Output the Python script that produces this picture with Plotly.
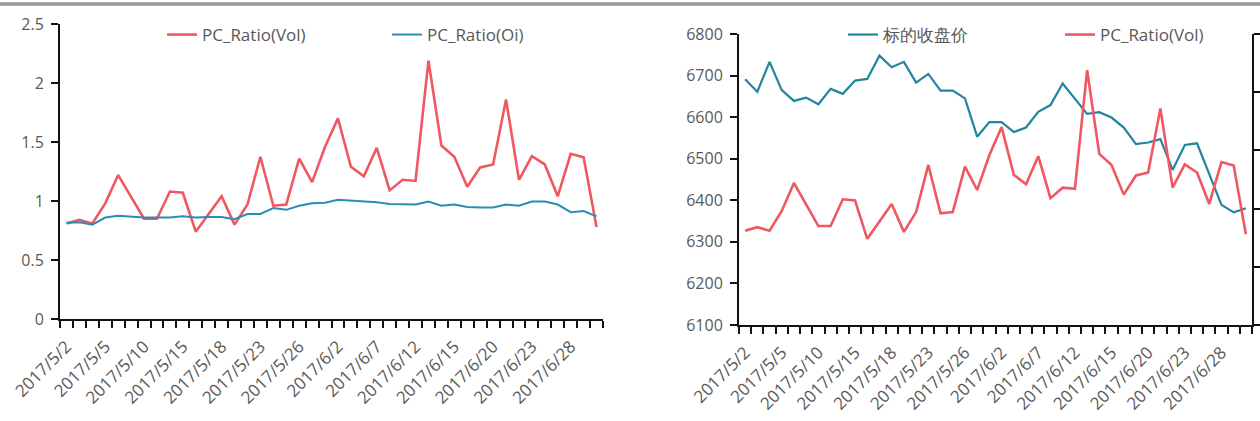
import plotly.graph_objects as go

# ---------------- data ----------------
dates = ["2017/5/2", "2017/5/3", "2017/5/4", "2017/5/5", "2017/5/8", "2017/5/9",
         "2017/5/10", "2017/5/11", "2017/5/12", "2017/5/15", "2017/5/16", "2017/5/17",
         "2017/5/18", "2017/5/19", "2017/5/22", "2017/5/23", "2017/5/24", "2017/5/25",
         "2017/5/26", "2017/5/31", "2017/6/1", "2017/6/2", "2017/6/5", "2017/6/6",
         "2017/6/7", "2017/6/8", "2017/6/9", "2017/6/12", "2017/6/13", "2017/6/14",
         "2017/6/15", "2017/6/16", "2017/6/19", "2017/6/20", "2017/6/21", "2017/6/22",
         "2017/6/23", "2017/6/26", "2017/6/27", "2017/6/28", "2017/6/29", "2017/6/30"]

pc_ratio_vol = [0.81, 0.84, 0.81, 0.98, 1.22, 1.03, 0.85, 0.85, 1.08, 1.07, 0.74, 0.89,
                1.04, 0.80, 0.97, 1.375, 0.96, 0.97, 1.36, 1.16, 1.46, 1.70, 1.29, 1.21,
                1.45, 1.09, 1.18, 1.17, 2.19, 1.47, 1.375, 1.12, 1.285, 1.31, 1.86, 1.18,
                1.38, 1.31, 1.04, 1.40, 1.37, 0.78]

pc_ratio_oi = [0.815, 0.82, 0.80, 0.86, 0.875, 0.865, 0.86, 0.86, 0.86, 0.87, 0.86, 0.865,
               0.865, 0.845, 0.89, 0.89, 0.94, 0.925, 0.96, 0.98, 0.985, 1.01, 1.005, 1.0,
               0.99, 0.975, 0.97, 0.97, 0.995, 0.96, 0.97, 0.95, 0.945, 0.945, 0.97, 0.96,
               0.995, 0.995, 0.97, 0.905, 0.915, 0.87]

close_price = [6691, 6661, 6733, 6665, 6639, 6647, 6631, 6668, 6656, 6688, 6692, 6748,
               6720, 6733, 6683, 6704, 6664, 6664, 6645, 6553, 6588, 6588, 6564, 6575,
               6613, 6629, 6681, 6645, 6608, 6612, 6599, 6575, 6535, 6539, 6547, 6473,
               6533, 6537, 6461, 6389, 6371, 6381]

label_step = 3
left_y_ticks = [0, 0.5, 1, 1.5, 2, 2.5]
left_y_text = ["0", "0.5", "1", "1.5", "2", "2.5"]
price_ticks = [6100, 6200, 6300, 6400, 6500, 6600, 6700, 6800]

# ---------------- styling ----------------
W, H = 1260, 421
RED = "#EF5861"
BLUE = "#2A8DB3"
BLUE2 = "#22849F"
AX = "#111111"
TXT = "#595959"
FONT = "Open Sans"


def px_x(p):
    return p / W


def px_y(p):
    return 1 - p / H


idx = list(range(len(dates)))
tick_idx = idx[::label_step]
tick_txt = dates[::label_step]
bounds = [i - 0.5 for i in range(len(dates) + 1)]

fig = go.Figure()

fig.add_trace(go.Scatter(x=idx, y=pc_ratio_vol, name="PC_Ratio(Vol)", mode="lines",
                         line=dict(color=RED, width=2.6), xaxis="x", yaxis="y",
                         legend="legend", showlegend=True))
fig.add_trace(go.Scatter(x=idx, y=pc_ratio_oi, name="PC_Ratio(Oi)", mode="lines",
                         line=dict(color=BLUE, width=2), xaxis="x", yaxis="y",
                         legend="legend2", showlegend=True))
fig.add_trace(go.Scatter(x=idx, y=close_price, name="标的收盘价", mode="lines",
                         line=dict(color=BLUE2, width=2.2), xaxis="x2", yaxis="y2",
                         legend="legend3", showlegend=True))
fig.add_trace(go.Scatter(x=idx, y=pc_ratio_vol, name="PC_Ratio(Vol)", mode="lines",
                         line=dict(color=RED, width=2.6), xaxis="x2", yaxis="y3",
                         legend="legend4", showlegend=True))

xcommon = dict(range=[-0.5, len(dates) - 0.5], tickmode="array", tickvals=tick_idx,
               ticktext=tick_txt, tickangle=-45, ticks="", showgrid=False, zeroline=False,
               showline=True, linecolor=AX, linewidth=2, automargin=False,
               tickfont=dict(family=FONT, size=17, color=TXT), ticklabelstandoff=9,
               minor=dict(tickmode="array", tickvals=bounds, ticks="outside", ticklen=7,
                          tickwidth=2, tickcolor=AX, showgrid=False))

ycommon = dict(showgrid=False, zeroline=False, showline=True, linecolor=AX, linewidth=2,
               ticks="outside", ticklen=7, tickwidth=2, tickcolor=AX, automargin=False)

legcommon = dict(orientation="h", bgcolor="rgba(0,0,0,0)", borderwidth=0,
                 font=dict(family=FONT, size=17, color=TXT), yanchor="middle",
                 xanchor="left", y=px_y(35))

fig.update_layout(
    width=W, height=H, template="none", showlegend=True,
    margin=dict(l=0, r=0, t=0, b=0),
    paper_bgcolor="white", plot_bgcolor="white",
    xaxis=dict(domain=[px_x(60), px_x(603)], anchor="y", **xcommon),
    yaxis=dict(domain=[px_y(319), px_y(24)], anchor="x", range=[0, 2.5],
               tickvals=left_y_ticks, ticktext=left_y_text, ticklabelstandoff=4,
               tickfont=dict(family=FONT, size=16, color=TXT), **ycommon),
    xaxis2=dict(domain=[px_x(739), px_x(1252)], anchor="y2", **xcommon),
    yaxis2=dict(domain=[px_y(325), px_y(34)], anchor="x2", range=[6100, 6800],
                tickvals=price_ticks, ticklabelstandoff=4,
                tickfont=dict(family=FONT, size=16, color=TXT), **ycommon),
    yaxis3=dict(overlaying="y2", anchor="x2", side="right", range=[0, 2.5],
                tickvals=left_y_ticks, showticklabels=False, **ycommon),
    legend=dict(x=px_x(202 - 40), **legcommon),
    legend2=dict(x=px_x(427 - 40), **legcommon),
    legend3=dict(x=px_x(883 - 40), **legcommon),
    legend4=dict(x=px_x(1100 - 40), **legcommon),
    shapes=[dict(type="line", xref="paper", yref="paper", x0=0, x1=1,
                 y0=px_y(4), y1=px_y(4), line=dict(color="#999999", width=3.5))],
)

fig.write_html("out.html", config={"displayModeBar": False},
               post_script="document.body.style.margin='0';")
